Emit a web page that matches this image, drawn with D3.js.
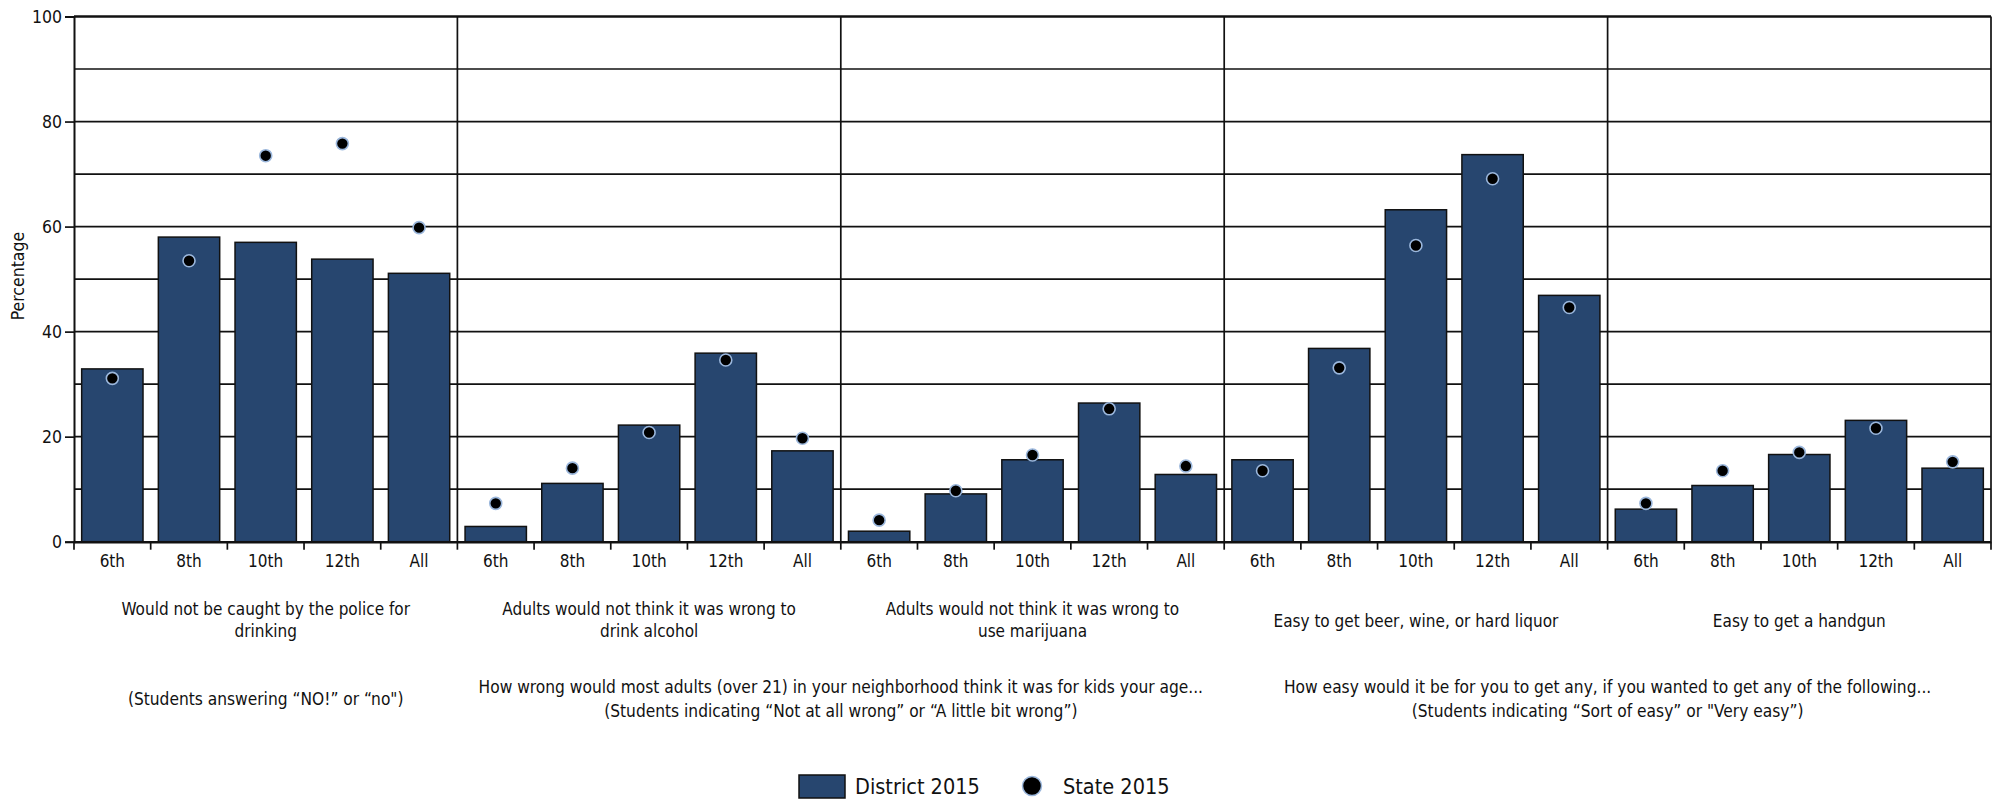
<!DOCTYPE html>
<html>
<head>
<meta charset="utf-8">
<script src="https://cdn.jsdelivr.net/npm/d3@7"></script>
<style>
  html, body { margin: 0; padding: 0; background: #fff; }
  svg text { font-family: 'Liberation Sans Narrow', 'DejaVu Sans Condensed', 'Noto Sans', sans-serif; fill: #111; }
</style>
</head>
<body>
<svg id="chart" width="1999" height="801"></svg>
<script>
// ---------- DATA ----------
const grades = ["6th", "8th", "10th", "12th", "All"];
const questions = [
  ["Would not be caught by the police for", "drinking"],
  ["Adults would not think it was wrong to", "drink alcohol"],
  ["Adults would not think it was wrong to", "use marijuana"],
  ["Easy to get beer, wine, or hard liquor"],
  ["Easy to get a handgun"]
];
const district2015 = [
  [32.9, 58.0, 57.0, 53.8, 51.1],
  [2.9, 11.1, 22.2, 35.9, 17.3],
  [2.0, 9.1, 15.6, 26.4, 12.8],
  [15.6, 36.8, 63.2, 73.7, 46.9],
  [6.2, 10.7, 16.6, 23.1, 14.0]
];
const state2015 = [
  [31.1, 53.5, 73.5, 75.8, 59.8],
  [7.3, 14.0, 20.8, 34.6, 19.7],
  [4.1, 9.7, 16.5, 25.3, 14.4],
  [13.5, 33.1, 56.4, 69.1, 44.6],
  [7.3, 13.5, 17.0, 21.6, 15.2]
];
const captionGroups = [
  { from: 0, to: 0, lines: ["(Students answering \u201cNO!\u201d or \u201cno\")"] },
  { from: 1, to: 2, lines: ["How wrong would most adults (over 21) in your neighborhood think it was for kids your age...", "(Students indicating \u201cNot at all wrong\u201d or \u201cA little bit wrong\u201d)"] },
  { from: 3, to: 4, lines: ["How easy would it be for you to get any, if you wanted to get any of the following...", "(Students indicating \u201cSort of easy\u201d or \"Very easy\u201d)"] }
];
const yTicks = [0, 20, 40, 60, 80, 100];
const yGrid = [10, 20, 30, 40, 50, 60, 70, 80, 90, 100];
const seriesNames = ["District 2015", "State 2015"];
const yLabel = "Percentage";

// ---------- LAYOUT ----------
const pLeft = 74, pRight = 1991, pTop = 16.5, pBottom = 541.7;
const barColor = "#27466f";
const dotStroke = "#9bb7dc";

const rows = [];
questions.forEach((q, qi) => grades.forEach((g, gi) => rows.push({
  key: qi + "-" + g, qi, gi, grade: g,
  district: district2015[qi][gi], state: state2015[qi][gi]
})));

const x = d3.scaleBand().domain(rows.map(r => r.key)).range([pLeft, pRight])
  .paddingInner(0.2).paddingOuter(0.1);
const y = d3.scaleLinear().domain([0, 100]).range([pBottom, pTop]);
const step = x.step();
const boundary = k => x(k) - step * x.paddingInner() / 2;

const svg = d3.select("#chart");

// gridlines
svg.append("g").selectAll("line").data(yGrid).join("line")
  .attr("x1", pLeft).attr("x2", pRight)
  .attr("y1", d => y(d)).attr("y2", d => y(d))
  .attr("stroke", "#111").attr("stroke-width", d => d === 100 ? 2.4 : 1.7);

// panel dividers
const dividerKeys = questions.map((q, qi) => qi + "-" + grades[0]).slice(1);
svg.append("g").selectAll("line").data(dividerKeys).join("line")
  .attr("x1", d => boundary(d)).attr("x2", d => boundary(d))
  .attr("y1", pTop).attr("y2", pBottom)
  .attr("stroke", "#111").attr("stroke-width", 1.7);
svg.append("line").attr("x1", pRight).attr("x2", pRight).attr("y1", pTop).attr("y2", pBottom)
  .attr("stroke", "#111").attr("stroke-width", 1.7);

// bars
svg.append("g").selectAll("rect").data(rows).join("rect")
  .attr("x", d => x(d.key)).attr("width", x.bandwidth())
  .attr("y", d => y(d.district)).attr("height", d => y(0) - y(d.district))
  .attr("fill", barColor).attr("stroke", "#111").attr("stroke-width", 1.5);

// dots
svg.append("g").selectAll("circle").data(rows).join("circle")
  .attr("cx", d => x(d.key) + x.bandwidth() / 2).attr("cy", d => y(d.state))
  .attr("r", 6).attr("fill", "#000").attr("stroke", dotStroke).attr("stroke-width", 1.6);

// y axis
const yAxis = svg.append("g").attr("transform", `translate(${pLeft},0)`)
  .call(d3.axisLeft(y).tickValues(yTicks).tickSize(9).tickPadding(3));
yAxis.select(".domain").attr("stroke", "#111").attr("stroke-width", 2);
yAxis.selectAll(".tick line").attr("stroke", "#111").attr("stroke-width", 1.7);
yAxis.selectAll(".tick text").style("font-size", "17.5px").attr("fill", "#111");

// x axis (labels at band centers)
const xAxis = svg.append("g").attr("transform", `translate(0,${pBottom})`)
  .call(d3.axisBottom(x).tickSize(0).tickPadding(13).tickFormat(k => rows.find(r => r.key === k).grade));
xAxis.select(".domain").attr("stroke", "#111").attr("stroke-width", 2.6);
xAxis.selectAll(".tick text").style("font-size", "17px").attr("fill", "#111");

// x boundary ticks
const tickPos = rows.map(r => boundary(r.key)).concat([pRight]);
svg.append("g").selectAll("line").data(tickPos).join("line")
  .attr("x1", d => d).attr("x2", d => d).attr("y1", pBottom).attr("y2", pBottom + 8)
  .attr("stroke", "#111").attr("stroke-width", 1.7);

// question labels
const panelEdge = qi => qi < questions.length ? boundary(qi + "-" + grades[0]) : pRight;
const qg = svg.append("g");
questions.forEach((lines, qi) => {
  const cx = (panelEdge(qi) + panelEdge(qi + 1)) / 2;
  const t = qg.append("text").attr("text-anchor", "middle").style("font-size", "17px");
  const baseY = lines.length === 1 ? 627 : 615;
  lines.forEach((ln, i) => t.append("tspan").attr("x", cx).attr("y", baseY + i * 22).text(ln));
});

// group captions
captionGroups.forEach(cg => {
  const cx = (panelEdge(cg.from) + panelEdge(cg.to + 1)) / 2;
  const t = svg.append("text").attr("text-anchor", "middle").style("font-size", "17.2px");
  const baseY = cg.lines.length === 1 ? 705 : 693;
  cg.lines.forEach((ln, i) => t.append("tspan").attr("x", cx).attr("y", baseY + i * 24).text(ln));
});

// y label
svg.append("text").attr("transform", `translate(24,${(pTop + pBottom) / 2 - 3}) rotate(-90)`)
  .attr("text-anchor", "middle").style("font-size", "17.5px").text(yLabel);

// legend
const lg = svg.append("g");
lg.append("rect").attr("x", 799).attr("y", 775).attr("width", 46).attr("height", 23)
  .attr("fill", barColor).attr("stroke", "#111").attr("stroke-width", 1.5);
lg.append("text").attr("x", 855).attr("y", 794).style("font-size", "21.5px").text(seriesNames[0]);
lg.append("circle").attr("cx", 1032).attr("cy", 786).attr("r", 9.5)
  .attr("fill", "#000").attr("stroke", dotStroke).attr("stroke-width", 1.5);
lg.append("text").attr("x", 1063).attr("y", 794).style("font-size", "21.5px").text(seriesNames[1]);
</script>
</body>
</html>
